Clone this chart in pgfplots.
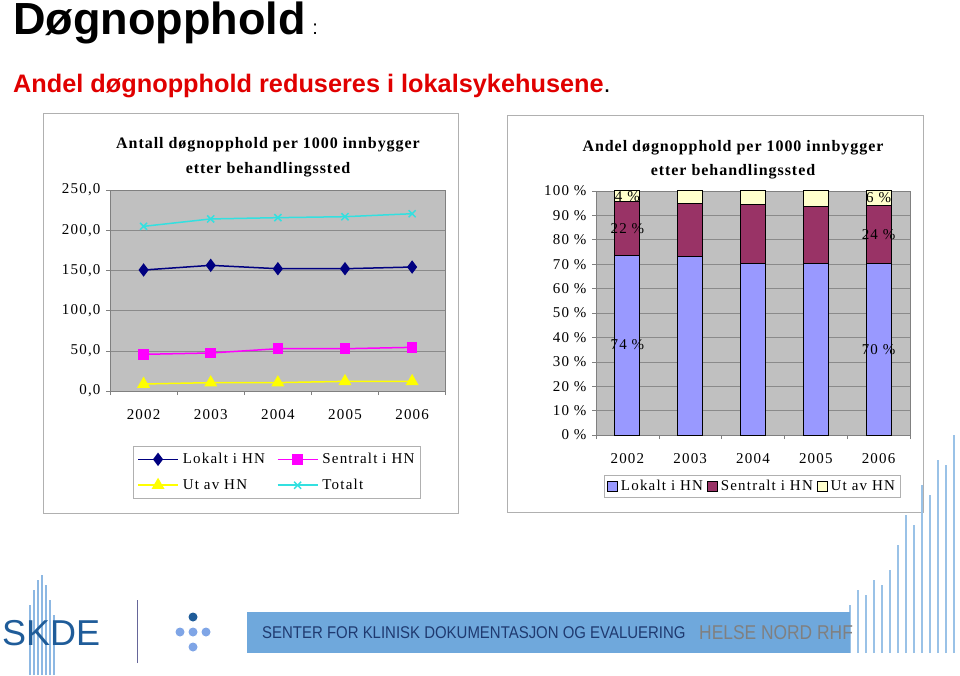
\documentclass[border=0pt]{standalone}
\usepackage{pgfplots}
\pgfplotsset{compat=1.18}
\usepackage{fontspec}
\setmainfont{Liberation Serif}
\newfontfamily\chartfont[LetterSpace=8]{Liberation Serif}
\newfontfamily\titlefont[LetterSpace=6]{Liberation Serif}
\newfontfamily\arial{Liberation Sans}
\definecolor{plotgray}{HTML}{C0C0C0}
\definecolor{gridcol}{HTML}{8A8A8A}
\definecolor{boxcol}{HTML}{B0B0B0}
\definecolor{lokalt}{HTML}{000080}
\definecolor{sentralt}{HTML}{FF00FF}
\definecolor{ut}{HTML}{FFFF00}
\definecolor{totalt}{HTML}{33E0E0}
\definecolor{barA}{HTML}{9999FF}
\definecolor{barB}{HTML}{993366}
\definecolor{barC}{HTML}{FFFFCC}
\definecolor{subred}{HTML}{E00000}
\definecolor{banner}{HTML}{6FA8DC}
\definecolor{navy}{HTML}{1F3A70}
\definecolor{skdeblue}{HTML}{1F5C99}
\definecolor{lightblue}{HTML}{8DB8E3}
\begin{document}
\begin{tikzpicture}[x=1pt,y=1pt]
\useasboundingbox (0,0) rectangle (960,675);
% slide title
\node[anchor=base west, inner sep=0] at (13,640) {\arial\bfseries\fontsize{45}{48}\selectfont Døgnopphold\fontsize{20}{24}\mdseries\,\,:};
\node[anchor=base west, inner sep=0] at (13,582) {\arial\fontsize{25.3}{28}\selectfont\textcolor{subred}{\bfseries Andel døgnopphold reduseres i lokalsykehusene}.};
% chart boxes
\draw[boxcol, line width=0.8pt] (43,162) rectangle (458,562);
\draw[boxcol, line width=0.8pt] (507,163) rectangle (923,560);
% titles
\node[align=center, font=\titlefont\bfseries\fontsize{16}{25}\selectfont] at (268,518) {Antall døgnopphold per 1000 innbygger\\etter behandlingssted};
\node[align=center, font=\titlefont\bfseries\fontsize{16}{24}\selectfont] at (733,515) {Andel døgnopphold per 1000 innbygger\\etter behandlingssted};

% ---------- left line chart ----------
\begin{axis}[
  scale only axis, width=335.7pt, height=201pt,
  at={(110pt,284pt)}, anchor=south west,
  xmin=-0.5, xmax=4.5, ymin=0, ymax=250,
  xtick={0,1,2,3,4}, xticklabels={2002,2003,2004,2005,2006},
  major x tick style={draw=none},
  minor xtick={-0.5,0.5,1.5,2.5,3.5,4.5},
  minor tick length=4pt, major tick length=4pt,
  ytick={0,50,100,150,200,250},
  yticklabels={{0,0},{50,0},{100,0},{150,0},{200,0},{250,0}},
  tick align=outside, tick pos=left,
  tick style={gray, line width=0.6pt},
  axis line style={gray, line width=0.8pt},
  axis background/.style={fill=plotgray},
  ymajorgrids, grid style={gridcol, line width=0.6pt},
  ticklabel style={font=\chartfont\fontsize{15}{18}\selectfont},
  xticklabel style={yshift=-11pt},
  yticklabel style={xshift=-2pt},
  legend columns=2, legend cell align=left,
  legend style={at={(0.497,-0.274)}, anchor=north, draw=boxcol, line width=0.6pt,
    font=\chartfont\fontsize{15}{18}\selectfont, inner xsep=4pt, inner ysep=5pt,
    row sep=10pt,
    /tikz/every odd column/.append style={column sep=2pt},
    /tikz/every even column/.append style={column sep=10pt}},
  legend image code/.code={\draw[mark repeat=2,mark phase=2,#1] plot coordinates {(0pt,0pt) (20pt,0pt) (40pt,0pt)};},
]
\addplot[lokalt, line width=1.5pt, mark=diamond*, mark size=5.5pt, mark options={fill=lokalt, solid}]
  coordinates {(0,150.5) (1,156.3) (2,152.1) (3,152.1) (4,154.2)};
\addlegendentry{Lokalt i HN}
\addplot[sentralt, line width=1.5pt, mark=square*, mark size=4.5pt, mark options={fill=sentralt}]
  coordinates {(0,45.6) (1,47.3) (2,52.6) (3,52.6) (4,54.3)};
\addlegendentry{Sentralt i HN}
\addplot[ut, line width=1.5pt, mark=triangle*, mark size=6pt, mark options={fill=ut}]
  coordinates {(0,8.7) (1,10.4) (2,10.4) (3,12.0) (4,12.0)};
\addlegendentry{Ut av HN}
\addplot[totalt, line width=1.5pt, mark=x, mark size=5pt]
  coordinates {(0,204.8) (1,214.0) (2,215.6) (3,216.8) (4,220.5)};
\addlegendentry{Totalt}
\end{axis}

% ---------- right stacked bar chart ----------
\begin{axis}[
  scale only axis, width=314pt, height=244pt,
  at={(596pt,240pt)}, anchor=south west,
  ybar stacked, bar width=25pt,
  xmin=-0.5, xmax=4.5, ymin=0, ymax=100,
  xtick={0,1,2,3,4}, xticklabels={2002,2003,2004,2005,2006},
  major x tick style={draw=none},
  minor xtick={-0.5,0.5,1.5,2.5,3.5,4.5},
  minor tick length=4pt, major tick length=4pt,
  ytick={0,10,...,100},
  yticklabels={0 \%,10 \%,20 \%,30 \%,40 \%,50 \%,60 \%,70 \%,80 \%,90 \%,100 \%},
  tick align=outside, tick pos=left,
  tick style={gray, line width=0.6pt},
  axis line style={gray, line width=0.8pt},
  axis background/.style={fill=plotgray},
  ymajorgrids, grid style={gridcol, line width=0.6pt},
  ticklabel style={font=\chartfont\fontsize{15}{18}\selectfont},
  xticklabel style={yshift=-11pt},
  yticklabel style={xshift=-2pt},
  legend columns=3, legend cell align=left,
  legend style={at={(0.497,-0.164)}, anchor=north, draw=boxcol, line width=0.6pt,
    font=\chartfont\fontsize{15}{18}\selectfont, inner xsep=3pt, inner ysep=3pt,
    /tikz/every odd column/.append style={column sep=1pt},
    /tikz/every even column/.append style={column sep=2pt}},
  legend image code/.code={\draw[#1, draw=black, line width=0.8pt] (0pt,-5pt) rectangle (10pt,5pt);},
  after end axis/.append code={
    \node[font=\chartfont\fontsize{15}{18}\selectfont] at (axis cs:0,36.85) {74 \%};
    \node[font=\chartfont\fontsize{15}{18}\selectfont] at (axis cs:0,84.6) {22 \%};
    \node[font=\chartfont\fontsize{15}{18}\selectfont] at (axis cs:0,97.75) {4 \%};
    \node[font=\chartfont\fontsize{15}{18}\selectfont] at (axis cs:4,35.1) {70 \%};
    \node[font=\chartfont\fontsize{15}{18}\selectfont] at (axis cs:4,82.2) {24 \%};
    \node[font=\chartfont\fontsize{15}{18}\selectfont] at (axis cs:4,97.1) {6 \%};
  },
]
\addplot[fill=barA, draw=black, line width=1pt] coordinates {(0,73.7) (1,73.2) (2,70.2) (3,70.2) (4,70.2)};
\addlegendentry{Lokalt i HN}
\addplot[fill=barB, draw=black, line width=1pt] coordinates {(0,21.8) (1,21.7) (2,24.2) (3,23.6) (4,24.0)};
\addlegendentry{Sentralt i HN}
\addplot[fill=barC, draw=black, line width=1pt] coordinates {(0,4.5) (1,5.1) (2,5.6) (3,6.2) (4,5.8)};
\addlegendentry{Ut av HN}
\end{axis}

% ---------- footer ----------
\foreach \xx/\hh in {30/70,34/85,38/95,42/100,46/90,50/75,54/60}
  \draw[lightblue, line width=1.2pt] (\xx,0) -- (\xx,\hh);
\node[anchor=west, inner sep=0, text=skdeblue] at (2,42) {\arial\fontsize{36}{38}\selectfont SKDE};
\draw[gray!80!blue, line width=1pt] (137,12) -- (137,75);
\fill[skdeblue] (193,58) circle (4.5);
\fill[lightblue!90!blue] (180,43) circle (4.5);
\fill[lightblue!90!blue] (193,43) circle (4.5);
\fill[lightblue!90!blue] (206,43) circle (4.5);
\fill[lightblue!90!blue] (193,28) circle (4.5);
\foreach \xx/\hh in {850/70,858/85,866/80,874/95,882/90,890/105,898/130,906/160,914/150,922/190,930/180,938/215,946/210,954/240}
  \draw[banner!70!white, line width=2pt] (\xx,22) -- (\xx,\hh);
\fill[banner] (247,22) rectangle (850,63);
\node[anchor=west, inner sep=0, text=navy] at (262,42) {\scalebox{0.88}[1]{\arial\fontsize{17}{20}\selectfont SENTER FOR KLINISK DOKUMENTASJON OG EVALUERING}};
\node[anchor=west, inner sep=0, text=gray] at (699,42) {\scalebox{0.87}[1]{\arial\fontsize{20}{22}\selectfont HELSE NORD RHF}};
\end{tikzpicture}
\end{document}
